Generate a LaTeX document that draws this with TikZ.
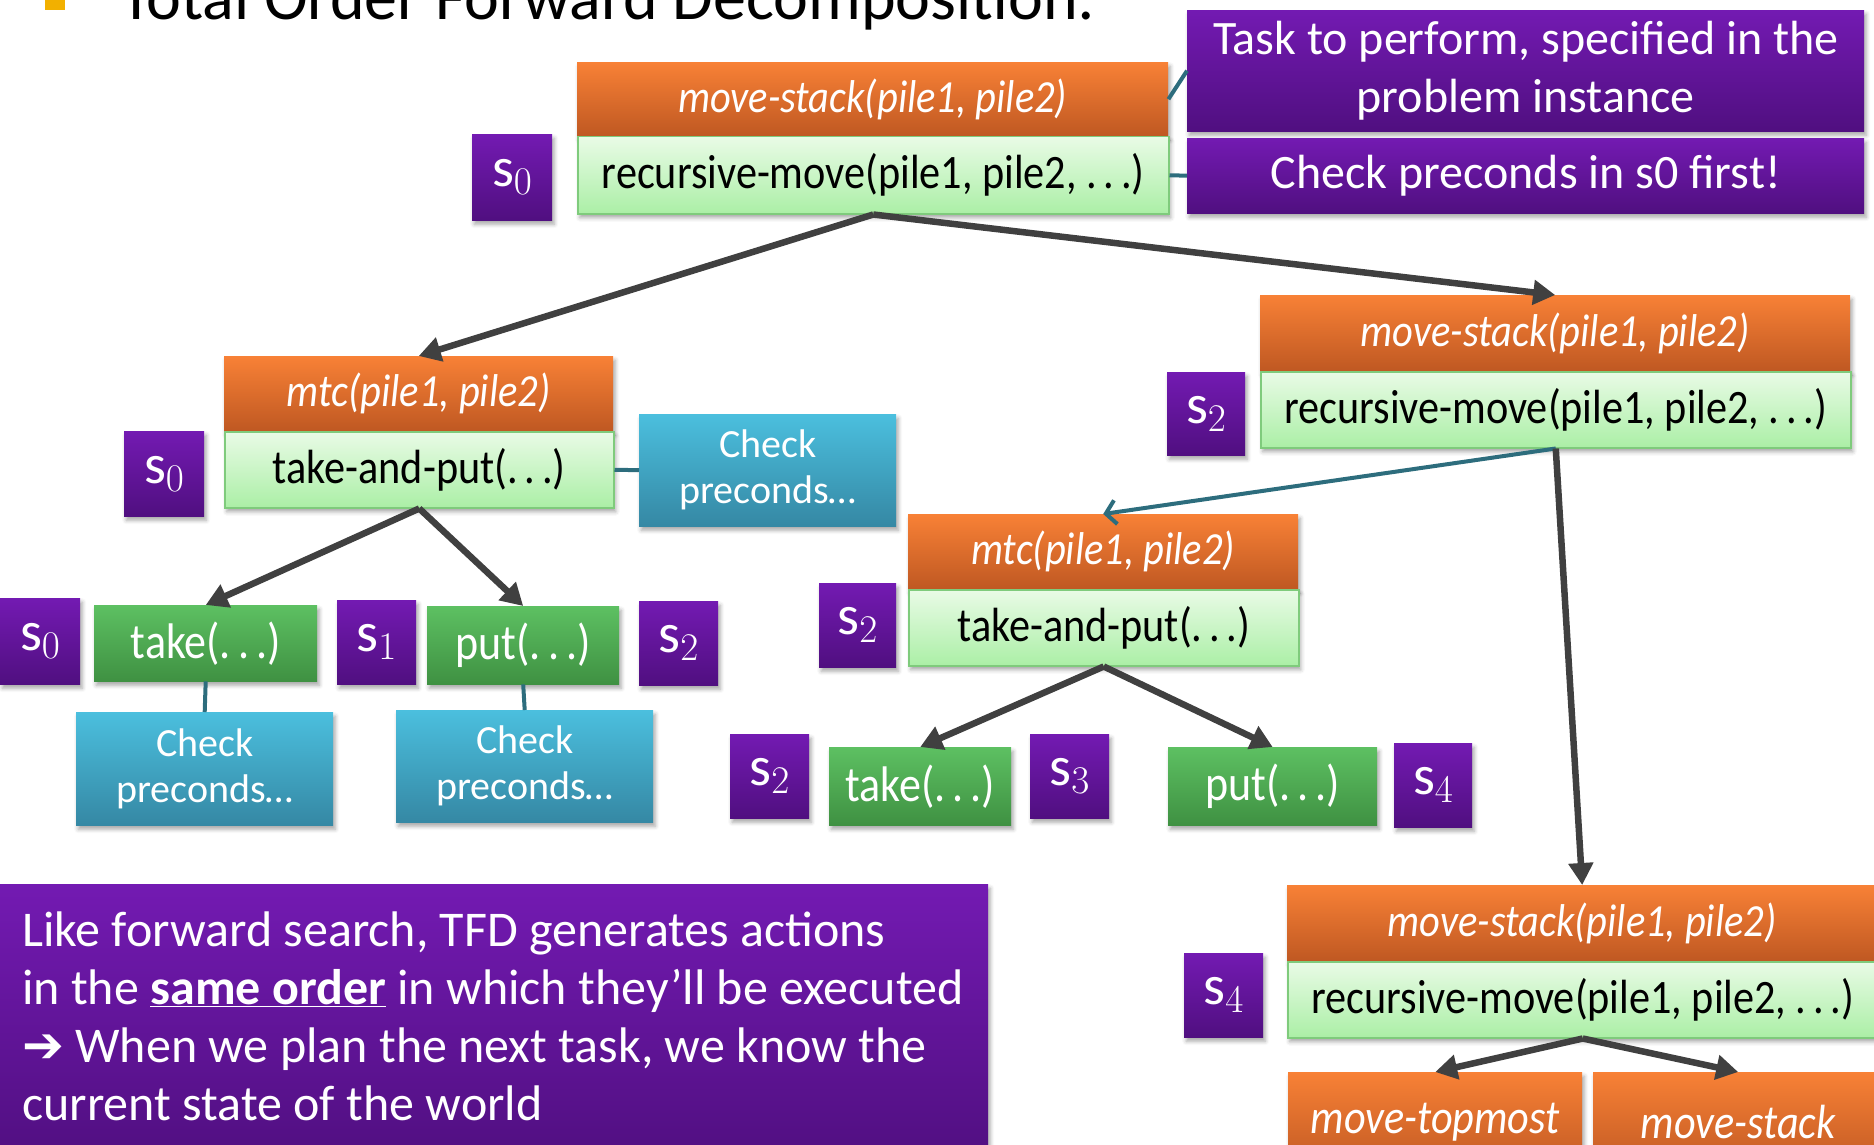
\RequirePackage{fix-cm}
\documentclass[tikz,border=0pt]{standalone}
\usepackage{fontspec}
\setmainfont{Carlito}
\newfontfamily\lblfont[FakeStretch=0.88]{Carlito}
\newfontfamily\arrowfont{DejaVu Sans}
\usetikzlibrary{arrows.meta,shadows.blur}

\newcommand\threedots{.\hspace{0.14em}.\hspace{0.14em}.}

\definecolor{orTop}{HTML}{F88136}
\definecolor{orBot}{HTML}{BF5822}
\definecolor{gnTop}{HTML}{E9FBE6}
\definecolor{gnBot}{HTML}{ABEFA6}
\definecolor{gnLine}{HTML}{7FCB7C}
\definecolor{acTop}{HTML}{5DC062}
\definecolor{acBot}{HTML}{3F9142}
\definecolor{puTop}{HTML}{731AB2}
\definecolor{puBot}{HTML}{500F80}
\definecolor{cyTop}{HTML}{4BBFDE}
\definecolor{cyBot}{HTML}{3588A4}
\definecolor{linkTeal}{HTML}{2D6D7D}
\definecolor{treeGray}{HTML}{404040}
\definecolor{bulletGold}{HTML}{F2B000}

\tikzset{
  softshadow/.style={blur shadow={shadow xshift=2pt,shadow yshift=-4pt,shadow blur radius=4pt,shadow opacity=35}},
  box/.style={rectangle,inner sep=0pt,anchor=north west,softshadow},
  taskbox/.style={box,top color=orTop,bottom color=orBot,text=white,
    font=\lblfont\fontsize{46}{46}\selectfont\itshape},
  methbox/.style={box,top color=gnTop,bottom color=gnBot,draw=gnLine,line width=1.5pt,text=black,
    font=\lblfont\fontsize{48}{48}\selectfont},
  actbox/.style={box,top color=acTop,bottom color=acBot,text=white,
    font=\lblfont\fontsize{50}{50}\selectfont},
  statebox/.style={box,top color=puTop,bottom color=puBot,text=white,
    font=\fontsize{56}{56}\selectfont},
  notebox/.style={box,top color=puTop,bottom color=puBot,text=white,align=center,
    font=\fontsize{48}{58}\selectfont},
  checkbox/.style={box,top color=cyTop,bottom color=cyBot,text=white,align=center,
    font=\fontsize{40}{46}\selectfont},
  tree/.style={draw=treeGray,line width=6.5pt,-{Triangle[length=22pt,width=24pt]}},
  tealarrow/.style={draw=linkTeal,line width=4pt,-{Straight Barb[length=10pt,width=24pt,line width=4pt]}},
  link/.style={draw=linkTeal,line width=4pt},
}

\begin{document}
\begin{tikzpicture}[x=1pt,y=-1pt]
\useasboundingbox (0,0) rectangle (1874,1145);
\clip (0,0) rectangle (1874,1145);

% heading
\fill[bulletGold] (45,-10) rectangle (65,10);
\node[anchor=base west,inner sep=0pt,font=\fontsize{66}{66}\selectfont] (title) at (120,20) {Total Order Forward Decomposition:};

% root task and its method
\node[taskbox,minimum width=591pt,minimum height=74pt] (ms1) at (577,62) {move-stack(pile1, pile2)};
\node[methbox,minimum width=591pt,minimum height=77pt] (rm1) at (577,136) {recursive-move(pile1, pile2, \threedots)};
\node[statebox,minimum width=80pt,minimum height=86pt] (s0a) at (472,134) {$\mathrm{s}_0$};

% explanatory notes
\node[notebox,minimum width=677pt,minimum height=121pt] (note1) at (1187,10) {Task to perform, specified in the\\problem instance};
\node[notebox,minimum width=677pt,minimum height=75pt] (note2) at (1187,138) {Check preconds in $\mathrm{s0}$ first!};

% first subtask: mtc
\node[taskbox,minimum width=389pt,minimum height=75pt] (mtc1) at (224,356) {mtc(pile1, pile2)};
\node[methbox,minimum width=389pt,minimum height=76pt] (tp1) at (224,431) {take-and-put(\threedots)};
\node[statebox,minimum width=80pt,minimum height=85pt] (s0b) at (124,431) {$\mathrm{s}_0$};
\node[checkbox,minimum width=257pt,minimum height=112pt] (cp1) at (639,414) {Check\\preconds…};

% its actions
\node[statebox,minimum width=80pt,minimum height=86pt] (s0c) at (0,598) {$\mathrm{s}_0$};
\node[actbox,minimum width=223pt,minimum height=76pt] (tk1) at (94,605) {take(\threedots)};
\node[statebox,minimum width=79pt,minimum height=84pt] (s1) at (337,600) {$\mathrm{s}_1$};
\node[actbox,minimum width=192pt,minimum height=78pt] (pt1) at (427,606) {put(\threedots)};
\node[statebox,minimum width=79pt,minimum height=84pt] (s2a) at (639,601) {$\mathrm{s}_2$};
\node[checkbox,minimum width=257pt,minimum height=113pt] (cp2) at (76,712) {Check\\preconds…};
\node[checkbox,minimum width=257pt,minimum height=112pt] (cp3) at (396,710) {Check\\preconds…};

% second subtask: recursive move-stack
\node[taskbox,minimum width=590pt,minimum height=76pt] (ms2) at (1260,295) {move-stack(pile1, pile2)};
\node[methbox,minimum width=590pt,minimum height=76pt] (rm2) at (1260,371) {recursive-move(pile1, pile2, \threedots)};
\node[statebox,minimum width=78pt,minimum height=83pt] (s2b) at (1167,372) {$\mathrm{s}_2$};

\node[taskbox,minimum width=390pt,minimum height=75pt] (mtc2) at (908,514) {mtc(pile1, pile2)};
\node[methbox,minimum width=390pt,minimum height=76pt] (tp2) at (908,589) {take-and-put(\threedots)};
\node[statebox,minimum width=77pt,minimum height=84pt] (s2c) at (819,583) {$\mathrm{s}_2$};

\node[statebox,minimum width=79pt,minimum height=84pt] (s2d) at (730,734) {$\mathrm{s}_2$};
\node[actbox,minimum width=182pt,minimum height=78pt] (tk2) at (829,747) {take(\threedots)};
\node[statebox,minimum width=79pt,minimum height=84pt] (s3) at (1030,734) {$\mathrm{s}_3$};
\node[actbox,minimum width=209pt,minimum height=78pt] (pt2) at (1168,747) {put(\threedots)};
\node[statebox,minimum width=78pt,minimum height=84pt] (s4a) at (1394,743) {$\mathrm{s}_4$};

% third level move-stack
\node[taskbox,minimum width=590pt,minimum height=76pt] (ms3) at (1287,885) {move-stack(pile1, pile2)};
\node[methbox,minimum width=590pt,minimum height=76pt] (rm3) at (1287,961) {recursive-move(pile1, pile2, \threedots)};
\node[statebox,minimum width=79pt,minimum height=84pt] (s4b) at (1184,953) {$\mathrm{s}_4$};
\node[taskbox,minimum width=294pt,minimum height=100pt,font=\lblfont\fontsize{48}{48}\selectfont\itshape] (mt) at (1288,1072) {move-topmost};
\node[taskbox,minimum width=290pt,minimum height=100pt,font=\lblfont\fontsize{48}{48}\selectfont\itshape] (ms4) at (1593,1072) {move-stack};

% summary box
\node[box,top color=puTop,bottom color=puBot,minimum width=988pt,minimum height=280pt] (summary) at (0,884) {};
\node[anchor=base west,inner sep=0pt,align=left,text=white,font=\fontsize{50}{58}\selectfont] (summarytext) at (22,1120)
  {Like forward search, TFD generates actions\\
   in the \textbf{\underline{same order}} in which they’ll be executed\\
   {\arrowfont ➔} When we plan the next task, we know the\\
   current state of the world};

% connectors
\draw[link] (ms1.east) -- (note1.west);
\draw[link] (rm1.east) -- (note2.west);
\draw[link] (tp1.east) -- (cp1.west);
\draw[link] (tk1.south) -- (cp2.north);
\draw[link] (pt1.south) -- (cp3.north);

\draw[tree] (rm1.south) -- (mtc1.north);
\draw[tree] (rm1.south) -- (ms2.north);
\draw[tree] (tp1.south) -- (tk1.north);
\draw[tree] (tp1.south) -- (pt1.north);
\draw[tealarrow] (rm2.south) -- (mtc2.north);
\draw[tree] (rm2.south) -- (ms3.north);
\draw[tree] (tp2.south) -- (tk2.north);
\draw[tree] (tp2.south) -- (pt2.north);
\draw[tree] (rm3.south) -- (mt.north);
\draw[tree] (rm3.south) -- (ms4.north);
\end{tikzpicture}
\end{document}
